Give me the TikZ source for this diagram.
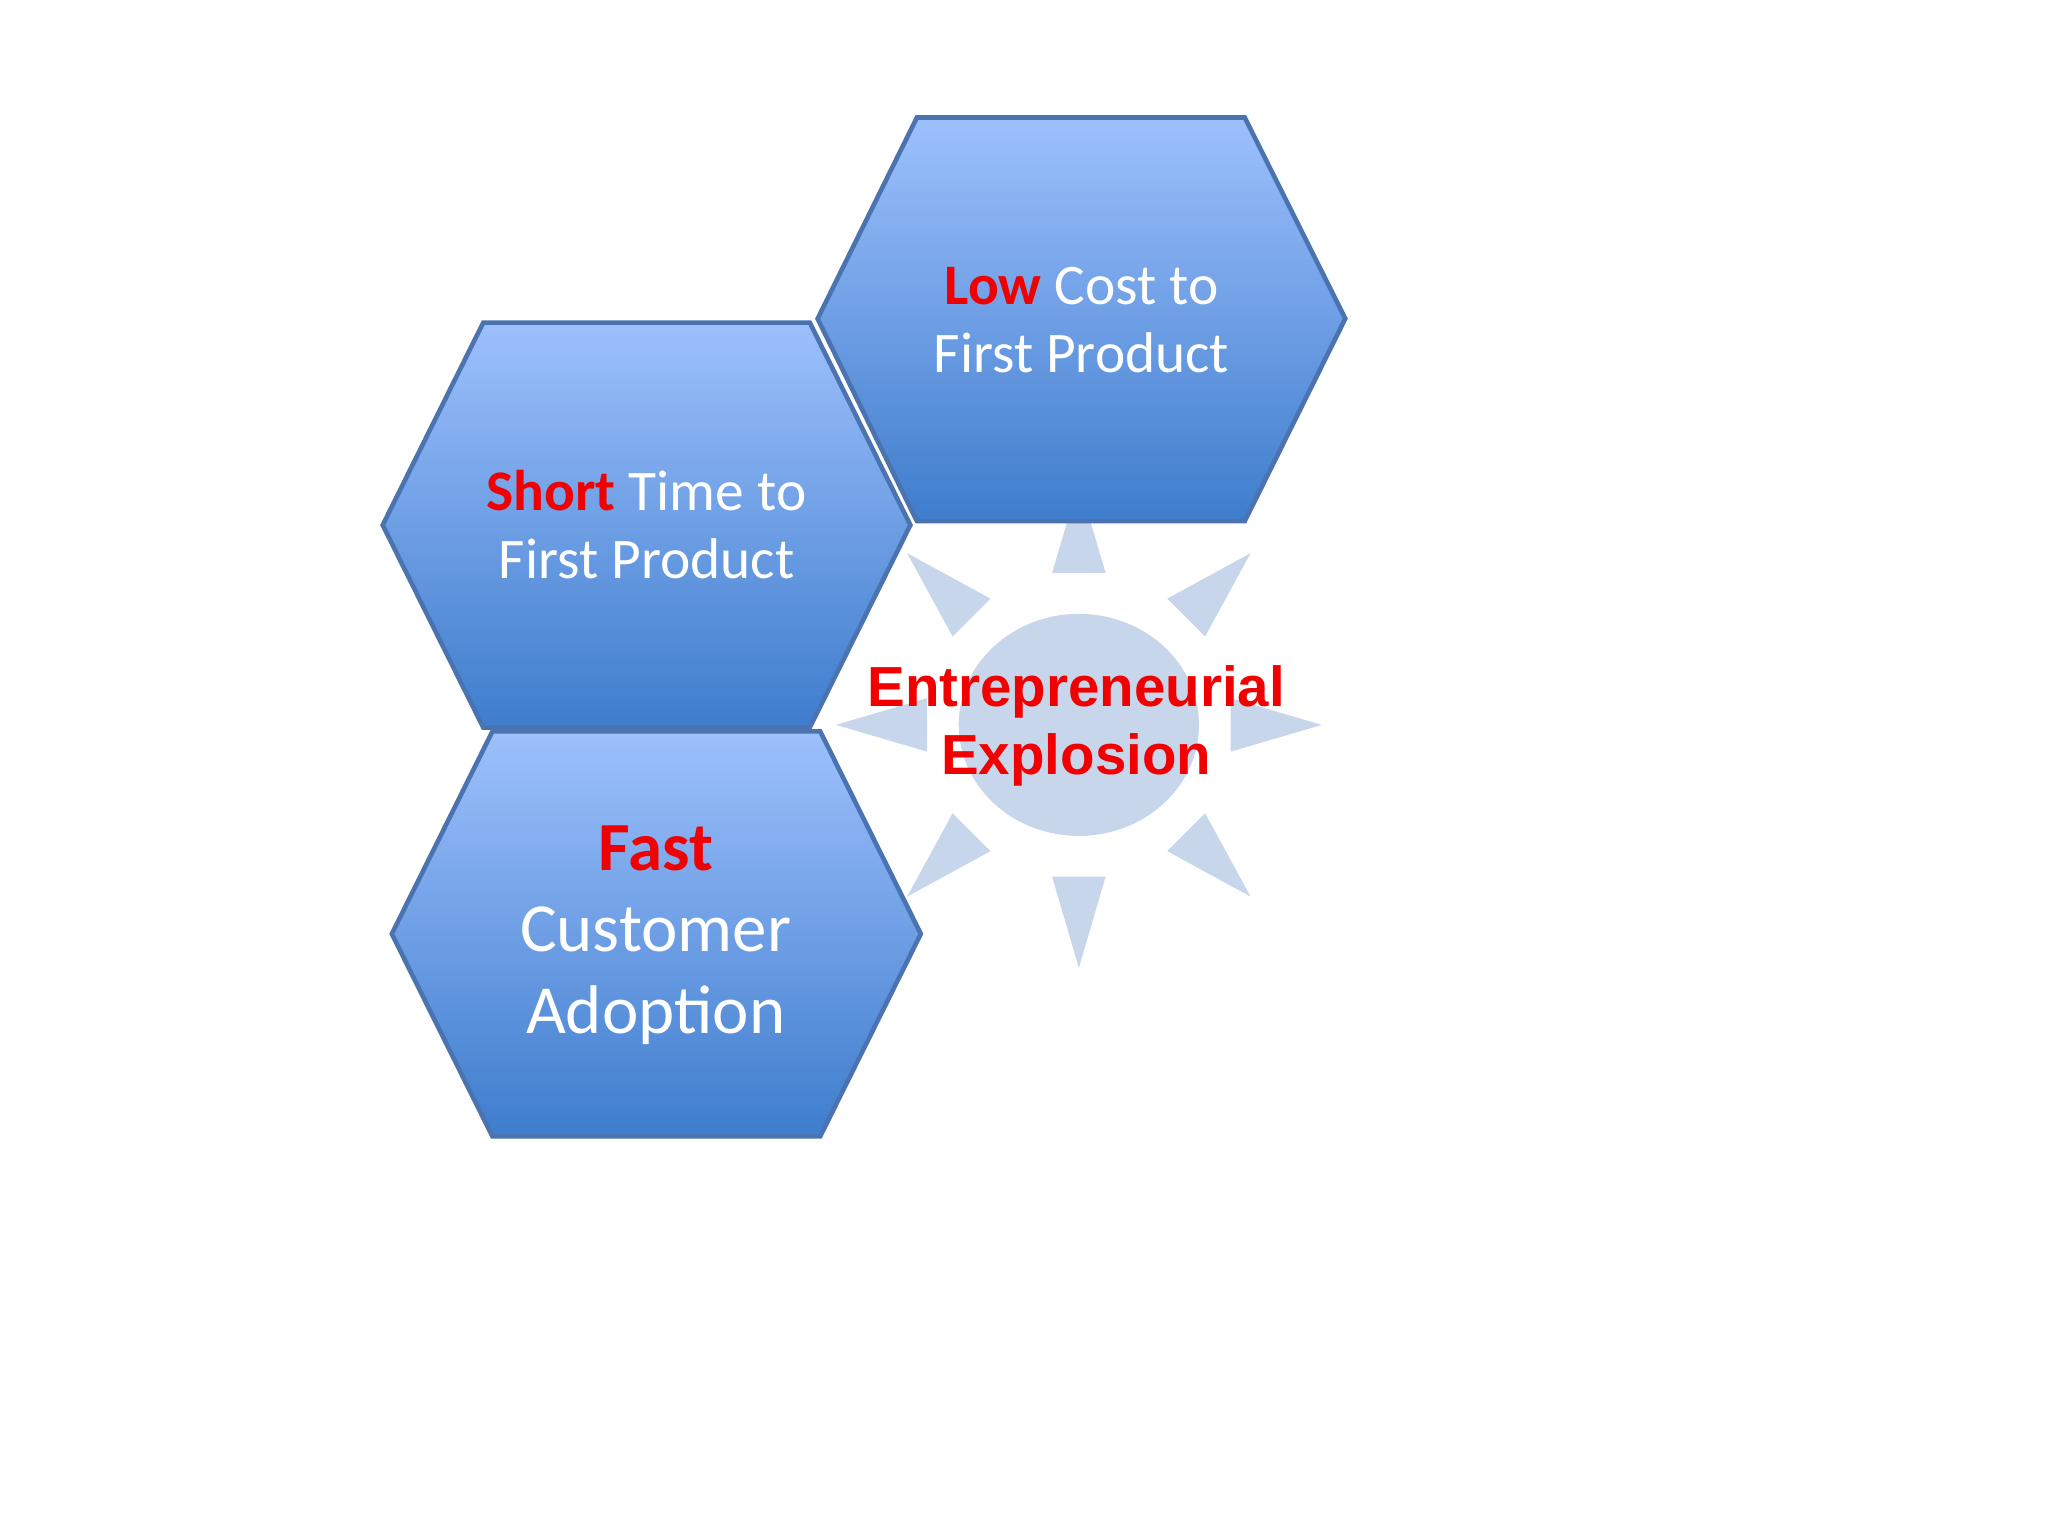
\documentclass[tikz,border=0pt]{standalone}
\usepackage{fontspec}
\usetikzlibrary{calc}
\setmainfont{Carlito}
\newfontfamily\arialb{Liberation Sans}
\definecolor{htop}{HTML}{9DC0FC}
\definecolor{hbot}{HTML}{3E7DCD}
\definecolor{hedge}{HTML}{4A73B0}
\definecolor{sunc}{HTML}{B9CCE6}
\definecolor{red}{HTML}{F00000}
\begin{document}
\begin{tikzpicture}[x=0.01cm,y=-0.01cm,
  hexa/.style={top color=htop,bottom color=hbot,draw=hedge,line width=1pt},
  ray/.style={fill=sunc,draw=none},
  htext/.style={text=white,align=center,font=\fontsize{12.5}{14.8}\selectfont},
  rd/.style={text=red}]
\useasboundingbox (0,0) rectangle (1568,1176);
% sun
\fill[sunc,opacity=0.8] (826,555) ellipse (92 and 85);
\foreach \a in {0,45,...,315}{
  \fill[ray,opacity=0.8] ($(826,555)+(\a:186)$) -- ($(826,555)+(\a+10:118)$) -- ($(826,555)+(\a-10:118)$) -- cycle;
}
% hexagons
\draw[hexa] (702,90)--(953,90)--(1030,244)--(953,399)--(702,399)--(626,244)--cycle;
\draw[hexa] (370,247)--(620,247)--(697,402)--(620,557)--(370,557)--(293,402)--cycle;
\draw[hexa] (377,560)--(628,560)--(705,715)--(628,870)--(377,870)--(300,715)--cycle;
\node[htext] (low) at (828,245) {{\bfseries\color{red}Low} Cost to\\First Product};
\node[htext] (short) at (495,402) {{\bfseries\color{red}Short} Time to\\First Product};
\node[htext,font=\fontsize{15}{17.8}\selectfont] (fast) at (502,716) {{\bfseries\color{red}Fast}\\Customer\\Adoption};
\node[text=red,align=center,font=\arialb\bfseries\fontsize{12.3}{14.8}\selectfont] (ent) at (824,556) {Entrepreneurial\\Explosion};
\end{tikzpicture}
\end{document}
